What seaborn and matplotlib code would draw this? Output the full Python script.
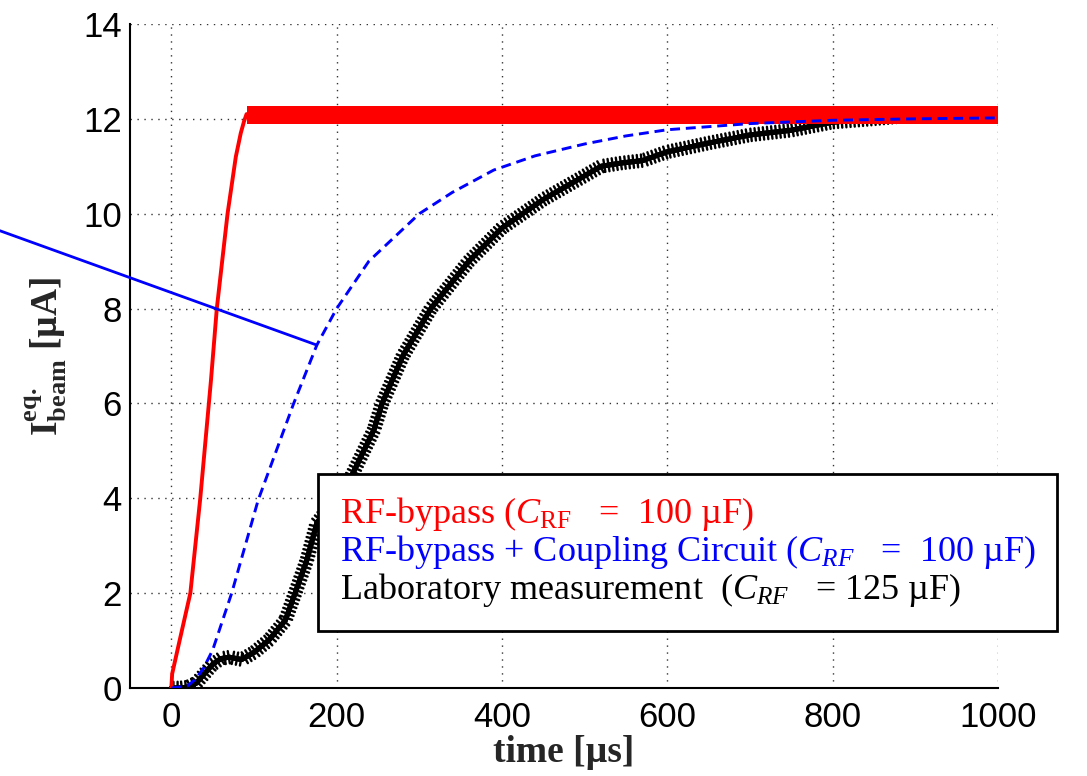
import numpy as np
import pandas as pd
import seaborn as sns
import matplotlib
matplotlib.use("Agg")
import matplotlib.pyplot as plt
import matplotlib.patheffects as pe
from matplotlib.lines import Line2D

# ---------------- data ----------------
red_t = [0, 1, 10, 23, 35, 48, 55, 68, 78, 84, 88, 91]
red_y = [0.0, 0.3, 1.0, 2.0, 4.0, 6.5, 8.0, 10.0, 11.2, 11.7, 11.95, 12.1]

# ripple band of the RF-bypass curve after it saturates
band_t = [91, 1000]
band_lo = [11.9, 11.9]
band_hi = [12.27, 12.27]

blue_t = [0, 10, 20, 30, 39, 50, 73, 105, 148, 176, 200, 239, 275, 300, 340,
          390, 440, 500, 550, 600, 700, 800, 900, 1000]
blue_y = [0.0, 0.02, 0.05, 0.2, 0.42, 0.8, 2.0, 3.96, 6.0, 7.23, 8.0, 9.0,
          9.59, 10.0, 10.45, 10.92, 11.22, 11.47, 11.64, 11.77, 11.9, 11.97,
          12.0, 12.02]

black_t = [0, 10, 20, 30, 40, 50, 60, 70, 85, 100, 118, 138, 154, 164, 176,
           200, 218, 245, 255, 280, 314, 360, 400, 450, 500, 520, 545, 570,
           599, 650, 700, 750, 800, 850, 900, 950, 1000]
black_y = [0.0, 0.0, 0.02, 0.1, 0.3, 0.5, 0.62, 0.65, 0.6, 0.75, 1.01, 1.43,
           2.21, 2.70, 3.48, 4.0, 4.47, 5.44, 6.0, 7.0, 8.0, 9.0, 9.7, 10.3,
           10.8, 11.0, 11.07, 11.12, 11.3, 11.49, 11.66, 11.76, 11.93, 12.0,
           12.08, 12.05, 12.05]

labels = [r"RF-bypass ($C_{\mathrm{RF}}$   =  100 µF)",
          r"RF-bypass + Coupling Circuit ($C_{RF}$   =  100 µF)",
          r"Laboratory measurement  ($C_{RF}$   = 125 µF)"]
colors = ["#ff0000", "#0000ff", "#000000"]

x_ticks = [0, 200, 400, 600, 800, 1000]
y_ticks = [0, 2, 4, 6, 8, 10, 12, 14]

# annotation pointer (from outside the axes to the blue curve)
ann_start = (-220, 9.72)
ann_end = (176, 7.23)

# ---------------- style ----------------
sns.set_style("white")
plt.rcParams["font.family"] = ["Liberation Sans", "DejaVu Sans"]
plt.rcParams["mathtext.fontset"] = "custom"
plt.rcParams["mathtext.rm"] = "Liberation Serif"
plt.rcParams["mathtext.it"] = "Liberation Serif:italic"
plt.rcParams["mathtext.bf"] = "Liberation Serif:bold"

fig = plt.figure(figsize=(10.87, 7.76), dpi=100)
ax = fig.add_axes([0.1196, 0.1134, 0.7985, 0.8557])

df_red = pd.DataFrame({"t": red_t, "y": red_y})
df_blue = pd.DataFrame({"t": blue_t, "y": blue_y})
df_black = pd.DataFrame({"t": black_t, "y": black_y})

# black: laboratory measurement drawn with '+'-like cross strokes
sns.lineplot(data=df_black, x="t", y="y", ax=ax, color="black", lw=3.6,
             estimator=None, sort=False, zorder=3,
             path_effects=[pe.withTickedStroke(angle=90, spacing=3.0, length=1.5, linewidth=1.7),
                           pe.withTickedStroke(angle=-90, spacing=3.0, length=1.5, linewidth=1.7),
                           pe.Normal()])

# red: RF-bypass
ax.fill_between(band_t, band_lo, band_hi, color="#ff0000", lw=0, zorder=4)
sns.lineplot(data=df_red, x="t", y="y", ax=ax, color="#ff0000", lw=2.8,
             estimator=None, sort=False, zorder=4)

# blue dashed: RF-bypass + coupling circuit
sns.lineplot(data=df_blue, x="t", y="y", ax=ax, color="#0000ff", lw=2.1,
             estimator=None, sort=False, zorder=5, dashes=False)
ax.lines[-1].set_dashes((3.4, 2.0))

ax.annotate("", xy=ann_end, xytext=ann_start,
            arrowprops=dict(arrowstyle="-", color="#0000ff", lw=2.0,
                            shrinkA=0, shrinkB=0),
            annotation_clip=False, zorder=6)

ax.set_xlim(-50, 1000)
ax.set_ylim(0, 14)
ax.set_xticks(x_ticks)
ax.set_yticks(y_ticks)
ax.tick_params(axis="both", direction="in", length=8, width=1.3,
               labelsize=25, colors="black")
ax.tick_params(axis="x", pad=9)
ax.tick_params(axis="y", pad=6)

ax.grid(True, color="black", linestyle=(0, (1, 4)), lw=1.0, alpha=0.8)
for s in ["top", "right"]:
    ax.spines[s].set_visible(False)
for s in ["left", "bottom"]:
    ax.spines[s].set_color("black")
    ax.spines[s].set_linewidth(1.5)

ax.set_xlabel("time [µs]", family="Liberation Serif", fontweight="bold",
              fontsize=27, labelpad=1)
ax.set_ylabel(r"$\mathbf{I}_{\mathbf{beam}}^{\mathbf{eq.}}$ [µA]",
              family="Liberation Serif", fontweight="bold", fontsize=27,
              labelpad=10)

handles = [Line2D([], [], color=c, linestyle="none") for c in colors]
leg = ax.legend(handles, labels, loc="lower left",
                bbox_to_anchor=(0.2166, 0.0858), frameon=True, fancybox=False,
                handlelength=0, handletextpad=0, labelspacing=0.0,
                borderpad=0.6, borderaxespad=0,
                prop={"family": "Liberation Serif", "size": 26},
                labelcolor=colors)
leg.get_frame().set_edgecolor("black")
leg.get_frame().set_linewidth(2.0)
leg.get_frame().set_alpha(1)
leg.set_zorder(10)

fig.savefig("out.png", dpi=100)
